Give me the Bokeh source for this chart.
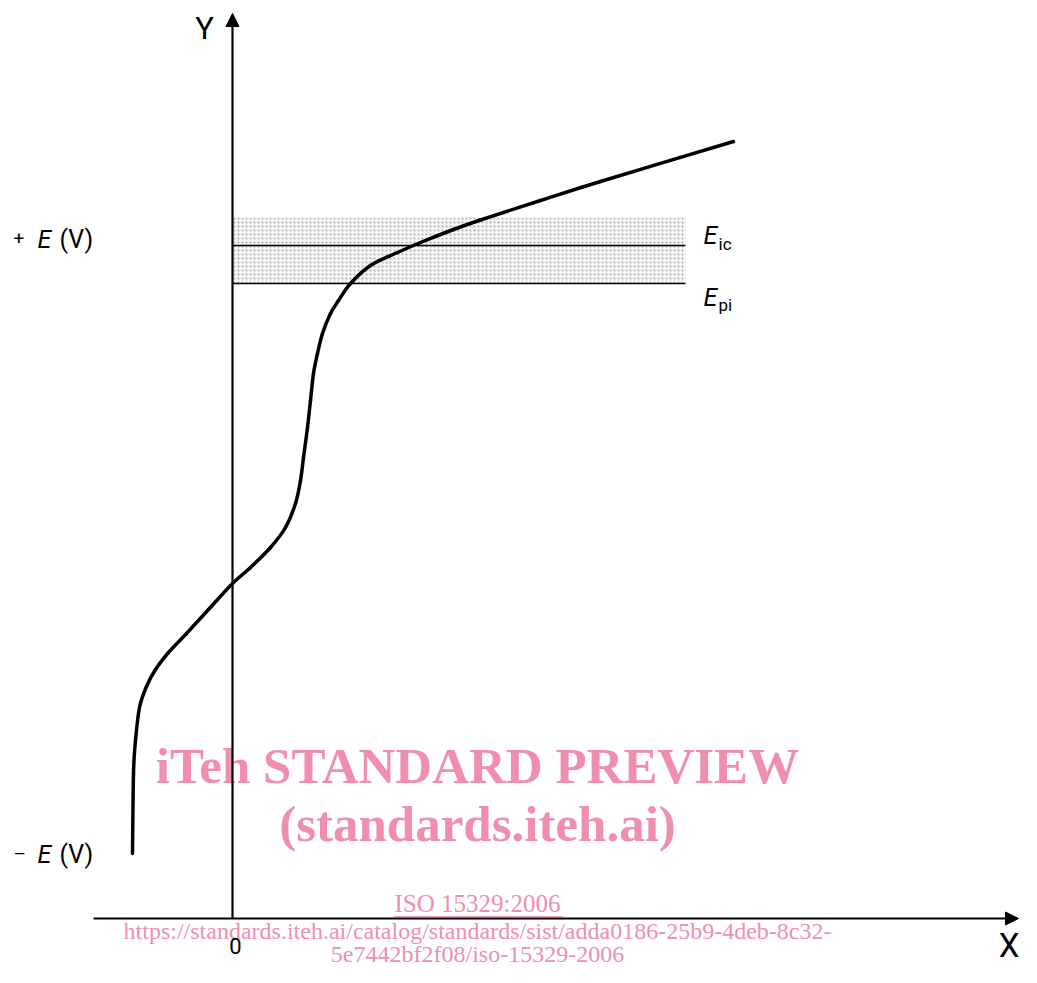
from bokeh.plotting import figure
from bokeh.models import Range1d, Arrow, NormalHead, Label
from bokeh.embed import file_html
from bokeh.resources import INLINE

# Polarisation curve (arbitrary units; origin at the crossing of the axes)
curve_x = [-100, -99, -97, -93, -86, -77, -64, -46, -24, 0, 18, 38, 53, 63, 68, 71,
           75, 78, 81, 85, 90, 98, 106, 118, 138, 165, 188, 221, 248, 308, 368, 501]
curve_y = [65, 145, 178, 211, 232, 249, 266, 285, 309, 335, 351, 371, 391, 415, 438, 461,
           491, 518, 545, 565, 585, 605, 618, 635, 653, 666, 676, 689, 698.5, 718, 737, 777]

# Shaded band and the two reference potentials
band_x = [0, 453]
band_y = [635, 701]
E_ic = 673
E_pi = 635

# Axis extents
x_axis = [-139, 786]
y_axis = [0, 905]

ink = "black"
pink = "#EF8FAD"
label_font = "Roboto"
wm_font = "Liberation Serif"

p = figure(width=1021, height=966, x_range=Range1d(-232, 789), y_range=Range1d(-48, 918),
           output_backend="svg", toolbar_location=None, min_border=0,
           x_axis_location=None, y_axis_location=None, outline_line_color=None)
p.grid.visible = False

# band
p.quad(left=band_x[0], right=band_x[1], bottom=band_y[0], top=band_y[1],
       fill_color="#f5f5f5", line_color=None,
       hatch_pattern="dot", hatch_color="#aaaaaa", hatch_scale=4, hatch_weight=1)
p.segment(x0=[band_x[0], band_x[0]], y0=[E_ic, E_pi], x1=[band_x[1], band_x[1]], y1=[E_ic, E_pi],
          line_color=ink, line_width=1.6)

# curve: smooth Catmull-Rom path through the read points, drawn as Bezier pieces
n = len(curve_x)
bx0, by0, bx1, by1, bcx0, bcy0, bcx1, bcy1 = ([] for _ in range(8))
for i in range(n - 1):
    a = max(i - 1, 0)
    d = min(i + 2, n - 1)
    bx0.append(curve_x[i]); by0.append(curve_y[i])
    bx1.append(curve_x[i + 1]); by1.append(curve_y[i + 1])
    bcx0.append(curve_x[i] + (curve_x[i + 1] - curve_x[a]) / 6)
    bcy0.append(curve_y[i] + (curve_y[i + 1] - curve_y[a]) / 6)
    bcx1.append(curve_x[i + 1] - (curve_x[d] - curve_x[i]) / 6)
    bcy1.append(curve_y[i + 1] - (curve_y[d] - curve_y[i]) / 6)
p.bezier(x0=bx0, y0=by0, x1=bx1, y1=by1, cx0=bcx0, cy0=bcy0, cx1=bcx1, cy1=bcy1,
         line_color=ink, line_width=3.5, line_cap="round")

# watermark
def lab(x, y, text, **kw):
    p.add_layout(Label(x=x, y=y, text=text, **kw))

wm_x = 245
lab(wm_x, 153, "iTeh STANDARD PREVIEW", text_font=wm_font, text_font_style="bold",
    text_font_size="51px", text_color=pink, text_align="center", text_baseline="alphabetic")
lab(wm_x, 95, "(standards.iteh.ai)", text_font=wm_font, text_font_style="bold",
    text_font_size="51px", text_color=pink, text_align="center", text_baseline="alphabetic")
lab(wm_x, 15, "ISO 15329:2006", text_font=wm_font, text_font_size="25px",
    text_color=pink, text_align="center", text_baseline="alphabetic")
p.segment(x0=[161], y0=[2], x1=[330], y1=[2], line_color=pink, line_width=1)
lab(wm_x, -12, "https://standards.iteh.ai/catalog/standards/sist/adda0186-25b9-4deb-8c32-",
    text_font=wm_font, text_font_size="24px", text_color=pink, text_align="center",
    text_baseline="alphabetic")
lab(wm_x, -35, "5e7442bf2f08/iso-15329-2006",
    text_font=wm_font, text_font_size="24px", text_color=pink, text_align="center",
    text_baseline="alphabetic")

# axes with arrow heads
p.add_layout(Arrow(end=NormalHead(size=13, fill_color=ink, line_color=ink, line_width=1),
                   x_start=0, y_start=y_axis[0], x_end=0, y_end=y_axis[1],
                   line_color=ink, line_width=2.2))
p.add_layout(Arrow(end=NormalHead(size=13, fill_color=ink, line_color=ink, line_width=1),
                   x_start=x_axis[0], y_start=0, x_end=x_axis[1], y_end=0,
                   line_color=ink, line_width=2.2))

# axis labels
lab(-28, 890, "Y", text_font=label_font, text_font_size="31px", text_color=ink,
    text_align="center", text_baseline="alphabetic")
lab(787, -27, "X", text_font=label_font, text_font_size="33px", text_color=ink,
    text_align="right", text_baseline="alphabetic")
lab(3, -27, "0", text_font=label_font, text_font_size="22px", text_color=ink,
    text_align="center", text_baseline="alphabetic")

# potential labels
for yb, sign in ((679, "+"), (64, "\u2013")):
    lab(-219, yb + 1, sign, text_font=label_font, text_font_size="19px", text_color=ink,
        text_align="left", text_baseline="alphabetic")
    lab(-195, yb, "E", text_font=label_font, text_font_style="italic", text_font_size="25px",
        text_color=ink, text_align="left", text_baseline="alphabetic")
    lab(-173, yb, "(V)", text_font=label_font, text_font_size="25px", text_color=ink,
        text_align="left", text_baseline="alphabetic")

lab(471, E_ic + 10, "E", text_font=label_font, text_font_style="italic", text_font_size="25px",
    text_color=ink, text_align="left", text_baseline="alphabetic")
lab(486, E_ic + 2, "ic", text_font=label_font, text_font_size="17px",
    text_color=ink, text_align="left", text_baseline="alphabetic")
lab(471, 621, "E", text_font=label_font, text_font_style="italic", text_font_size="25px",
    text_color=ink, text_align="left", text_baseline="alphabetic")
lab(486, 614, "pi", text_font=label_font, text_font_size="17px",
    text_color=ink, text_align="left", text_baseline="alphabetic")

open("out.html", "w").write(file_html(p, INLINE))
